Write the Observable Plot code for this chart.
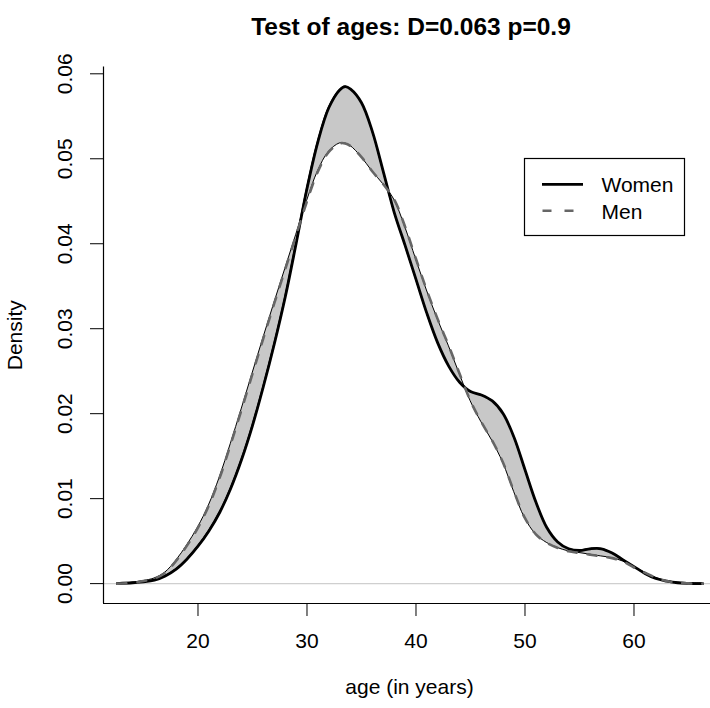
<!DOCTYPE html>
<html>
<head>
<meta charset="utf-8">
<script src="https://cdn.jsdelivr.net/npm/d3@7"></script>
<script src="https://cdn.jsdelivr.net/npm/@observablehq/plot@0.6"></script>
<style>
  html, body { margin: 0; padding: 0; background: #fff; }
  #wrap { position: relative; width: 710px; height: 708px; font-family: "Liberation Sans", Arial, Helvetica, sans-serif; }
  #legend { position: absolute; left: 0; top: 0; pointer-events: none; }
</style>
</head>
<body>
<div id="wrap"></div>
<script>
// ---- data ----
const ages  = [12.6, 14, 15, 16, 17, 18, 19, 20, 21, 22, 23, 24, 25, 26, 27, 28, 29, 30, 31, 32, 33, 33.5, 34, 35, 36, 37, 38, 39, 40, 41, 42, 43, 44, 45, 46, 47, 48, 49, 50, 51, 52, 53, 54, 55, 56, 57, 58, 59, 60, 61, 62, 63, 64, 65, 66.3];
const women = [0, 0.0001, 0.0002, 0.0004, 0.0009, 0.0017, 0.0029, 0.0044, 0.0062, 0.0084, 0.0112, 0.0146, 0.0186, 0.0232, 0.0282, 0.0337, 0.0400, 0.0465, 0.0520, 0.0560, 0.0581, 0.0585, 0.0582, 0.0566, 0.0532, 0.0485, 0.0437, 0.0398, 0.0358, 0.0318, 0.0283, 0.0256, 0.0237, 0.0226, 0.0222, 0.0215, 0.0200, 0.0172, 0.0134, 0.0096, 0.0066, 0.0049, 0.0041, 0.0039, 0.0041, 0.0041, 0.0036, 0.0028, 0.0020, 0.0012, 0.0006, 0.0003, 0.0001, 0.00003, 0];
const men   = [0, 0.0001, 0.0003, 0.0006, 0.0013, 0.0027, 0.0045, 0.0066, 0.0092, 0.0125, 0.0164, 0.0205, 0.0247, 0.0289, 0.0330, 0.0370, 0.0410, 0.0450, 0.0485, 0.0508, 0.0518, 0.0518, 0.0515, 0.0502, 0.0485, 0.0470, 0.0452, 0.0420, 0.0382, 0.0345, 0.0311, 0.0280, 0.0247, 0.0215, 0.0190, 0.0168, 0.0142, 0.0108, 0.0077, 0.0058, 0.0048, 0.0042, 0.0038, 0.0036, 0.0034, 0.0032, 0.0030, 0.0026, 0.0019, 0.0013, 0.0007, 0.0003, 0.0001, 0.00003, 0];

const xTicks = [20, 30, 40, 50, 60];
const yTicks = [0, 0.01, 0.02, 0.03, 0.04, 0.05, 0.06];
const yTickLabels = ["0.00", "0.01", "0.02", "0.03", "0.04", "0.05", "0.06"];
const seriesNames = ["Women", "Men"];
const titleText = "Test of ages: D=0.063 p=0.9";
const xLabel = "age (in years)";
const yLabel = "Density";

const xDomain = [11.33, 67.02];
const yDomain = [-0.00234, 0.0608];

const table = ages.map((a, i) => ({age: a, women: women[i], men: men[i]}));
const yTickData = yTicks.map((v, i) => ({v, label: yTickLabels[i]}));

const FONT = '"Liberation Sans", Arial, Helvetica, sans-serif';

const chart = Plot.plot({
  width: 710,
  height: 708,
  marginLeft: 103,
  marginRight: 0,
  marginTop: 66.5,
  marginBottom: 105,
  style: {fontFamily: FONT, fontSize: "21px", background: "#fff", color: "#000", overflow: "visible"},
  x: {domain: xDomain},
  y: {domain: yDomain},
  marks: [
    Plot.ruleY([0], {stroke: "#cfcfcf", strokeWidth: 1.2}),
    Plot.areaY(table, {x: "age", y1: "men", y2: "women", fill: "#c8c8c8", stroke: "#000", strokeWidth: 1, curve: "catmull-rom"}),
    Plot.line(table, {x: "age", y: "women", stroke: "#000", strokeWidth: 2.8, curve: "catmull-rom"}),
    Plot.line(table, {x: "age", y: "men", stroke: "#666", strokeWidth: 2.6, strokeDasharray: "9 11", curve: "catmull-rom"}),
    Plot.ruleY([yDomain[0]], {stroke: "#000", strokeWidth: 1.2}),
    Plot.ruleX([xDomain[0]], {stroke: "#000", strokeWidth: 1.2}),
    Plot.axisX({ticks: xTicks, tickSize: 13, tickPadding: 17, fontSize: 21, label: null, tickFormat: d => String(d)}),
    Plot.axisY({ticks: yTicks, tickSize: 13, label: null, tickFormat: () => ""}),
    Plot.text(yTickData, {y: "v", text: "label", frameAnchor: "left", dx: -38, rotate: -90, textAnchor: "middle", fontSize: 21}),
    Plot.text([yLabel], {frameAnchor: "left", dx: -88, rotate: -90, textAnchor: "middle", fontSize: 21}),
    Plot.text([xLabel], {frameAnchor: "bottom", dy: 90, dx: 2.5, textAnchor: "middle", fontSize: 21}),
    Plot.text([titleText], {frameAnchor: "top", dy: -49.3, dx: 4, textAnchor: "middle", fontSize: 24.5, fontWeight: "bold"})
  ]
});

const wrap = document.getElementById("wrap");
wrap.appendChild(chart);

// legend overlay
const ns = "http://www.w3.org/2000/svg";
const lg = document.createElementNS(ns, "svg");
lg.setAttribute("id", "legend");
lg.setAttribute("width", 710);
lg.setAttribute("height", 708);
lg.innerHTML = `
  <rect x="524.5" y="158.5" width="160" height="77" fill="#fff" stroke="#000" stroke-width="1.2"/>
  <line x1="542" y1="184.3" x2="583" y2="184.3" stroke="#000" stroke-width="2.8"/>
  <line x1="542.5" y1="210.7" x2="583" y2="210.7" stroke="#666" stroke-width="2.6" stroke-dasharray="9 13"/>
  <text x="601.5" y="192.3" font-size="21" font-family='${FONT}' fill="#000">${seriesNames[0]}</text>
  <text x="601.5" y="218.5" font-size="21" font-family='${FONT}' fill="#000">${seriesNames[1]}</text>
`;
wrap.appendChild(lg);
</script>
</body>
</html>
